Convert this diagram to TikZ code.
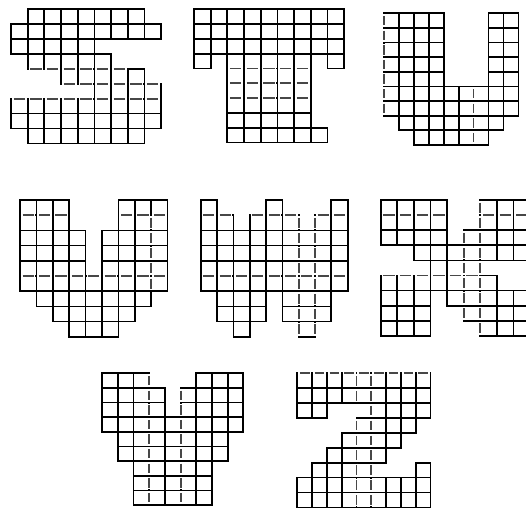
\documentclass[tikz,border=0pt]{standalone}
\tikzset{
  cellline/.style={line width=1.7pt, black},
  erase/.style={line width=3.4pt, white, shorten <=0.95pt, shorten >=0.95pt},
  dashseg/.style={line width=1.7pt, black!72, shorten <=2.6pt, shorten >=2.6pt},
}
\newcommand\gcells[1]{\foreach \rowy/\fa/\fb in {#1} {\foreach \colx in {\fa,...,\fb} {\draw[cellline] (\colx,\rowy) rectangle ++(1,1);}}}
\newcommand\gdh[1]{\foreach \rowy/\fa/\fb in {#1} {\foreach \colx in {\fa,...,\fb} {\draw[erase] (\colx,\rowy) -- ++(1,0); \draw[dashseg] (\colx,\rowy) -- ++(1,0);}}}
\newcommand\gdv[1]{\foreach \colx/\fa/\fb in {#1} {\foreach \rowy in {\fa,...,\fb} {\draw[erase] (\colx,\rowy) -- ++(0,1); \draw[dashseg] (\colx,\rowy) -- ++(0,1);}}}
\begin{document}
\begin{tikzpicture}[x=1pt,y=-1pt]
\useasboundingbox (0,0) rectangle (526,509);
\clip (0,0) rectangle (526,509);
% S
\begin{scope}[shift={(11,9.3)},x=16.67pt,y=-14.9pt]
  \gcells{0/1/7,1/0/8,2/0/4,3/1/5,4/3/7,5/5/8,6/0/8,7/0/8,8/1/7}
  \gdh{4/1/6,5/3/8,6/0/8}
\end{scope}
% T
\begin{scope}[shift={(194,9.3)},x=16.67pt,y=-14.8pt]
  \gcells{0/0/8,1/0/8,2/0/8,3/0/0,3/2/6,3/8/8,4/2/6,5/2/6,6/2/6,7/2/6,8/2/7}
  \gdh{4/2/6,5/2/6,6/2/6}
\end{scope}
% U
\begin{scope}[shift={(384,13.3)},x=14.93pt,y=-14.63pt]
  \gcells{0/0/3,0/7/8,1/0/3,1/7/8,2/0/3,2/7/8,3/0/3,3/7/8,4/0/3,4/7/8,5/0/8,6/0/8,7/1/7,8/2/6}
  \gdv{0/0/6,6/5/8}
\end{scope}
% V
\begin{scope}[shift={(20,200)},x=16.4pt,y=-15.2pt]
  \gcells{0/0/2,0/6/8,1/0/2,1/6/8,2/0/3,2/5/8,3/0/3,3/5/8,4/0/3,4/5/8,5/0/8,6/1/7,7/2/6,8/3/5}
  \gdh{1/0/2,1/6/8,5/0/8}
  \gdv{8/1/5}
\end{scope}
% W
\begin{scope}[shift={(200.7,200)},x=16.33pt,y=-15.2pt]
  \gcells{0/0/0,0/4/4,0/8/8,1/0/1,1/3/5,1/7/8,2/0/8,3/0/8,4/0/8,5/0/8,6/1/3,6/5/7,7/1/3,7/5/7,8/2/2,8/6/6}
  \gdh{1/0/1,1/3/5,1/7/8,5/0/8}
  \gdv{6/1/8,7/1/8}
\end{scope}
% X
\begin{scope}[shift={(380.7,200)},x=16.6pt,y=-15.1pt]
  \gcells{0/0/3,0/6/8,1/0/3,1/6/8,2/0/3,2/5/8,3/2/8,4/3/5,5/0/6,6/0/2,6/4/8,7/0/2,7/5/8,8/0/2,8/6/8}
  \gdh{1/0/3,1/6/8,5/0/5}
  \gdv{5/2/7,6/0/8}
\end{scope}
% Y
\begin{scope}[shift={(102.3,373.3)},x=15.67pt,y=-14.63pt]
  \gcells{0/0/2,0/6/8,1/0/3,1/5/8,2/0/3,2/5/8,3/0/8,4/1/7,5/1/7,6/2/6,7/2/6,8/2/6}
  \gdv{3/0/8,5/1/8}
\end{scope}
% Z
\begin{scope}[shift={(297.3,373.3)},x=14.8pt,y=-14.9pt]
  \gcells{0/0/8,1/0/8,2/0/1,2/5/8,3/4/7,4/3/6,5/2/5,6/1/4,6/8/8,7/0/8,8/0/8}
  \gdh{0/0/8}
  \gdv{4/0/1,4/3/8,5/0/8}
\end{scope}
\end{tikzpicture}
\end{document}
